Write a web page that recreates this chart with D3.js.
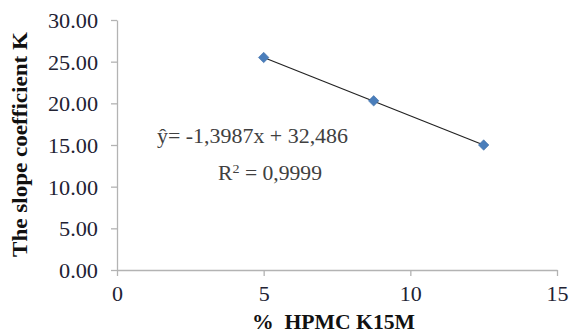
<!DOCTYPE html>
<html>
<head>
<meta charset="utf-8">
<script src="https://cdn.jsdelivr.net/npm/d3@7"></script>
<style>
  body { margin: 0; background: #fff; }
  svg text { font-family: "Liberation Serif", "DejaVu Serif", serif; }
</style>
</head>
<body>
<svg id="chart" width="569" height="336"></svg>
<script>
const hpmc = [5, 8.75, 12.5];
const slopeK = [25.5, 20.3, 15.0];
const xTicks = [0, 5, 10, 15];
const yTicks = [0, 5, 10, 15, 20, 25, 30];
const fitSlope = -1.3987;
const fitIntercept = 32.486;

const serif = "'Liberation Serif', 'DejaVu Serif', serif";
const svg = d3.select("svg#chart");
const margins = { top: 20, right: 12, bottom: 66, left: 117 };
const width = +svg.attr("width");
const height = +svg.attr("height");
const chartWidth = width - margins.left - margins.right;
const chartHeight = height - margins.top - margins.bottom;

const xScale = d3.scaleLinear().domain([0, 15]).range([0, 440]);
const yScale = d3.scaleLinear().domain([0, 30]).range([chartHeight, 0]);

const chartArea = svg.append("g")
  .attr("transform", "translate(" + margins.left + "," + margins.top + ")");

// label width like the original (digits ~11px, point ~6px)
const labelWidth = s => s.replace(/\./g, "").length * 11 + (s.includes(".") ? 6 : 0);

// axes
const leftAxis = d3.axisLeft(yScale).tickValues(yTicks).tickFormat(d3.format(".2f")).tickSize(6).tickSizeOuter(0);
const bottomAxis = d3.axisBottom(xScale).tickValues(xTicks).tickFormat(d3.format("d")).tickSize(6).tickSizeOuter(0);

const yAx = chartArea.append("g").call(leftAxis);
const xAx = chartArea.append("g").attr("transform", "translate(0," + chartHeight + ")").call(bottomAxis);

[yAx, xAx].forEach(ax => {
  ax.attr("font-family", serif).attr("font-size", 22);
  ax.select(".domain").attr("stroke", "#b3b3b3").attr("stroke-width", 1.3);
  ax.selectAll(".tick line").attr("stroke", "#b3b3b3").attr("stroke-width", 1.3);
  ax.selectAll(".tick text")
    .attr("fill", "#222233")
    .attr("textLength", function() { return labelWidth(this.textContent); })
    .attr("lengthAdjust", "spacingAndGlyphs");
});
yAx.selectAll(".tick text").attr("x", -19).attr("dy", "0.34em");
xAx.selectAll(".tick text").attr("y", 15);

// trend line
const fit = x => fitSlope * x + fitIntercept;
chartArea.append("line")
  .attr("x1", xScale(d3.min(hpmc)))
  .attr("y1", yScale(fit(d3.min(hpmc))))
  .attr("x2", xScale(d3.max(hpmc)))
  .attr("y2", yScale(fit(d3.max(hpmc))))
  .attr("stroke", "#222")
  .attr("stroke-width", 1.2);

// points
const diamond = d3.symbol().type(d3.symbolDiamond2).size(70);
hpmc.forEach((x, i) => {
  chartArea.append("path")
    .attr("d", diamond)
    .attr("transform", "translate(" + xScale(x) + "," + yScale(slopeK[i]) + ")")
    .attr("fill", "#4a7ebb")
    .attr("stroke", "#3f6fa8")
    .attr("stroke-width", 0.6);
});

// equation
svg.append("text")
  .text("ŷ= -1,3987x + 32,486")
  .attr("x", 157)
  .attr("y", 143)
  .attr("fill", "#404040")
  .attr("font-family", serif)
  .attr("font-size", 20)
  .attr("textLength", 191)
  .attr("lengthAdjust", "spacingAndGlyphs");

svg.append("text")
  .attr("x", 218)
  .attr("y", 180)
  .attr("fill", "#404040")
  .attr("font-family", serif)
  .attr("font-size", 20)
  .attr("textLength", 104)
  .attr("lengthAdjust", "spacingAndGlyphs")
  .html('R<tspan dy="-7" font-size="13">2</tspan><tspan dy="7"> = 0,9999</tspan>');

// axis titles
svg.append("text")
  .text("The slope coefficient K")
  .attr("transform", "rotate(-90)")
  .attr("x", -257)
  .attr("y", 27)
  .attr("font-weight", "bold")
  .attr("fill", "#111")
  .attr("font-family", serif)
  .attr("font-size", 20)
  .attr("textLength", 225)
  .attr("lengthAdjust", "spacingAndGlyphs");

svg.append("text")
  .text("%  HPMC K15M")
  .attr("x", 252)
  .attr("y", 329)
  .attr("font-weight", "bold")
  .attr("fill", "#111")
  .attr("font-family", serif)
  .attr("font-size", 20)
  .attr("textLength", 163)
  .attr("lengthAdjust", "spacingAndGlyphs")
  .style("white-space", "pre");
</script>
</body>
</html>
